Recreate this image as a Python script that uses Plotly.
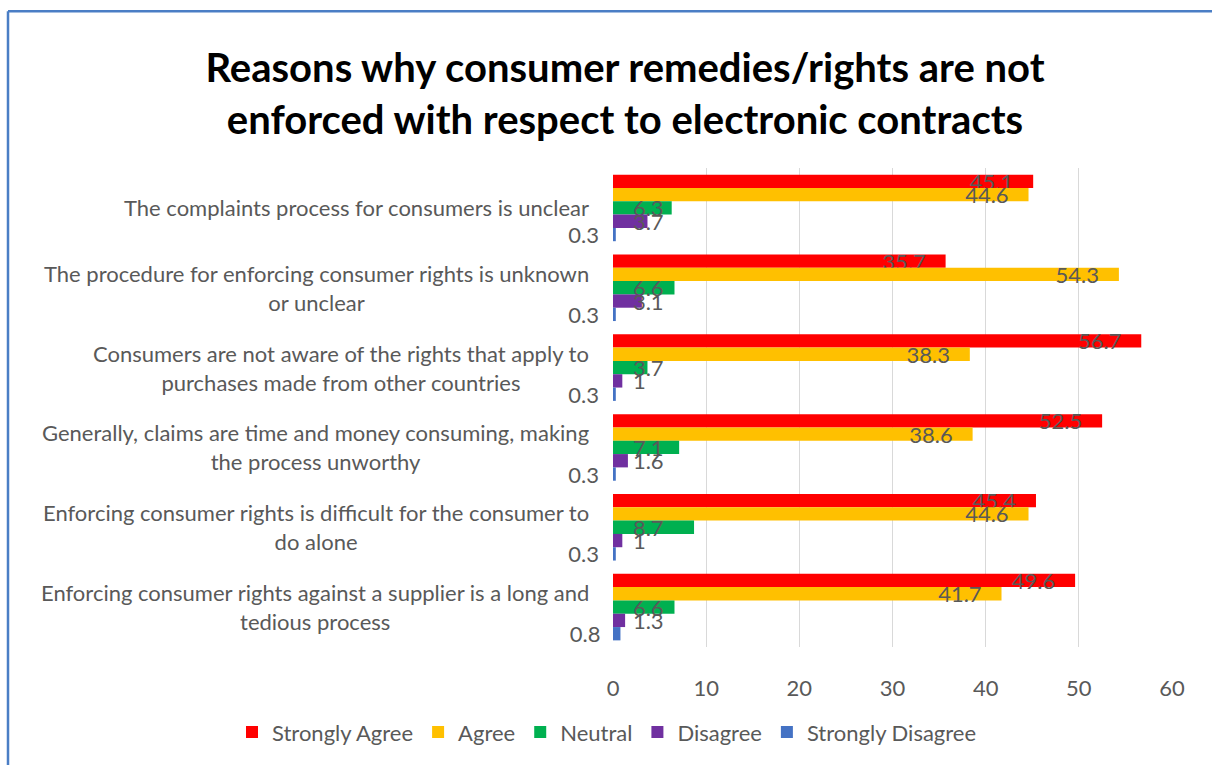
import plotly.graph_objects as go

categories = [
    "The complaints process for consumers is unclear",
    "The procedure for enforcing consumer rights is unknown<br>or unclear",
    "Consumers are not aware of the rights that apply to<br>purchases made from other countries",
    "Generally, claims are time and money consuming, making<br>the process unworthy",
    "Enforcing consumer rights is difficult for the consumer to<br>do alone",
    "Enforcing consumer rights against a supplier is a long and<br>tedious process",
]

series_names = ["Strongly Agree", "Agree", "Neutral", "Disagree", "Strongly Disagree"]
strongly_agree = [45.1, 35.7, 56.7, 52.5, 45.4, 49.6]
agree = [44.6, 54.3, 38.3, 38.6, 44.6, 41.7]
neutral = [6.3, 6.6, 3.7, 7.1, 8.7, 6.6]
disagree = [3.7, 3.1, 1, 1.6, 1, 1.3]
strongly_disagree = [0.3, 0.3, 0.3, 0.3, 0.3, 0.8]
colors = ["#FF0000", "#FFC000", "#00B050", "#7030A0", "#4472C4"]
# where each series' value label sits inside its bar
label_anchor = ["end", "end", "start", "start", "end"]

x_ticks = [0, 10, 20, 30, 40, 50, 60]

FONT = "Lato"
TEXT_GREY = "#595959"
PAD = "\u00a0\u00a0\u00a0"

W, H = 1212, 765
M_L, M_R, M_T, M_B = 613, 40, 168, 114

fig = go.Figure()
all_values = [strongly_agree, agree, neutral, disagree, strongly_disagree]
for name, vals, col, anchor in zip(series_names, all_values, colors, label_anchor):
    labels = [PAD + f"{v:g}" if anchor == "start" else f"{v:g}" + PAD for v in vals]
    fig.add_trace(go.Bar(
        name=name,
        y=categories,
        x=vals,
        orientation="h",
        marker=dict(color=col, line=dict(width=0)),
        text=labels,
        textposition="inside",
        insidetextanchor=anchor,
        constraintext="none",
        textangle=0,
        cliponaxis=False,
        textfont=dict(family=FONT, size=22, color=TEXT_GREY),
        hoverinfo="x+name",
    ))

# category labels, centred line by line
for cat in categories:
    fig.add_annotation(
        x=0, xref="paper", xanchor="right", xshift=-22,
        y=cat, yref="y", yanchor="middle",
        text=cat, showarrow=False, align="center",
        font=dict(family=FONT, size=22, color=TEXT_GREY),
    )

# chart frame: left and top edges
pw = W - M_L - M_R
ph = H - M_T - M_B
left_x = (8 - M_L) / pw
top_y = (H - M_B - 10) / ph
frame = dict(color="#4A7EC5", width=2.5)
fig.add_shape(type="line", xref="paper", yref="paper",
              x0=left_x, x1=left_x, y0=(H - M_B - (H + 20)) / ph, y1=top_y, line=frame)
fig.add_shape(type="line", xref="paper", yref="paper",
              x0=left_x, x1=(W + 20 - M_L) / pw, y0=top_y, y1=top_y, line=frame)

fig.update_layout(
    width=W, height=H,
    margin=dict(l=M_L, r=M_R, t=M_T, b=M_B),
    paper_bgcolor="white", plot_bgcolor="white",
    barmode="group", bargap=0.166, bargroupgap=0,
    title=dict(
        text="Reasons why consumer remedies/rights are not<br>enforced with respect to electronic contracts",
        font=dict(family=FONT, size=40, color="#000000", weight="bold"),
        x=625 / W, xanchor="center", xref="container",
        y=1 - 82 / H, yanchor="middle", yref="container",
    ),
    xaxis=dict(
        range=[0, 60], tickvals=x_ticks, showgrid=True, gridcolor="#D9D9D9",
        gridwidth=1, zeroline=False, showline=False,
        tickfont=dict(family=FONT, size=22, color=TEXT_GREY),
        ticklabelstandoff=26,
    ),
    yaxis=dict(
        autorange="reversed", showticklabels=False, showgrid=False,
        zeroline=False, showline=False,
    ),
    legend=dict(
        orientation="h", x=(232 - M_L) / pw, xanchor="left",
        y=(H - M_B - 737) / ph, yanchor="middle",
        font=dict(family=FONT, size=22, color=TEXT_GREY),
        itemwidth=30, traceorder="normal",
    ),
    showlegend=True,
)

fig.write_html("out.html")
